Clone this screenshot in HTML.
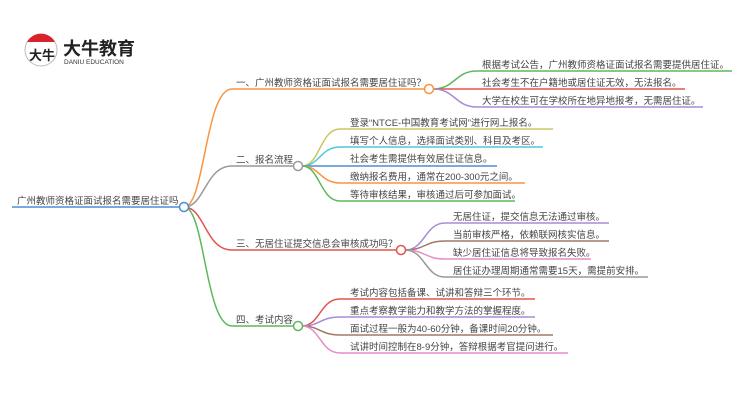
<!DOCTYPE html>
<html><head><meta charset="utf-8"><style>
html,body{margin:0;padding:0;background:#fff;}
svg{display:block;}
text{font-family:"Liberation Sans","Noto Sans CJK SC",sans-serif;font-size:9.5px;fill:#444;}
</style></head><body>
<svg width="750" height="410" viewBox="0 0 750 410" xmlns="http://www.w3.org/2000/svg">
<g>
<circle cx="41" cy="50" r="16" fill="#fff" stroke="#bbb" stroke-width="1"/>
<path d="M27 42 A16 16 0 0 1 55 42 Z" fill="#d9232a"/>
<text x="29" y="60" style="font-size:13px;font-weight:bold;fill:#222">大牛</text>
<text x="63" y="55" style="font-size:18px;font-weight:bold;fill:#222">大牛教育</text>
<text x="64" y="64" style="font-size:6.5px;fill:#333">DANIU EDUCATION</text>
</g>
<g fill="none" stroke-width="1.5">
<path d="M12 207 H180" stroke="#4a8fd6"/>
<path d="M184 207 C205 207,205 89,232 89 H425" stroke="#f7963f"/>
<path d="M184 207 C205 207,205 166,232 166 H294" stroke="#999"/>
<path d="M184 207 C205 207,205 250,232 250 H397" stroke="#e5534b"/>
<path d="M184 207 C205 207,205 326,232 326 H294" stroke="#5cb85c"/>
<path d="M433 89 C455 89,455 71,477 71 H732" stroke="#5cb85c"/>
<path d="M433 89 H685" stroke="#e5534b"/>
<path d="M433 89 C455 89,455 107,477 107 H703" stroke="#a98bd6"/>
<path d="M302 166 C320 166,320 129,340 129 H553" stroke="#c8c860"/>
<path d="M302 166 C320 166,320 147,340 147 H543" stroke="#4fc8d8"/>
<path d="M302 166 H497" stroke="#4a8fd6"/>
<path d="M302 166 C320 166,320 183,340 183 H525" stroke="#f7963f"/>
<path d="M302 166 C320 166,320 201,340 201 H515" stroke="#5cb85c"/>
<path d="M405 250 C425 250,425 223,445 223 H609" stroke="#a98bd6"/>
<path d="M405 250 C425 250,425 241,445 241 H609" stroke="#a07868"/>
<path d="M405 250 C425 250,425 259,445 259 H591" stroke="#e88cc8"/>
<path d="M405 250 C425 250,425 277,445 277 H648" stroke="#999"/>
<path d="M302 326 C320 326,320 299,340 299 H535" stroke="#e5534b"/>
<path d="M302 326 C320 326,320 317,340 317 H535" stroke="#a98bd6"/>
<path d="M302 326 C320 326,320 335,340 335 H553" stroke="#a07868"/>
<path d="M302 326 C320 326,320 353,340 353 H568" stroke="#e88cc8"/>
</g>
<g fill="#fff" stroke-width="1.5">
<circle cx="184" cy="207" r="4.5" stroke="#4a8fd6"/>
<circle cx="429" cy="89" r="4.5" stroke="#f7963f"/>
<circle cx="298" cy="166" r="4.5" stroke="#999"/>
<circle cx="401" cy="250" r="4.5" stroke="#e5534b"/>
<circle cx="298" cy="326" r="4.5" stroke="#5cb85c"/>
</g>
<text x="17" y="204">广州教师资格证面试报名需要居住证吗</text>
<text x="236" y="86">一、广州教师资格证面试报名需要居住证吗？</text>
<text x="236" y="163">二、报名流程</text>
<text x="236" y="247">三、无居住证提交信息会审核成功吗？</text>
<text x="236" y="323">四、考试内容</text>

<text x="482" y="68">根据考试公告，广州教师资格证面试报名需要提供居住证。</text>
<text x="482" y="86">社会考生不在户籍地或居住证无效，无法报名。</text>
<text x="482" y="104">大学在校生可在学校所在地异地报考，无需居住证。</text>

<text x="350" y="126">登录“NTCE-中国教育考试网”进行网上报名。</text>
<text x="350" y="144">填写个人信息，选择面试类别、科目及考区。</text>
<text x="350" y="162">社会考生需提供有效居住证信息。</text>
<text x="350" y="180">缴纳报名费用，通常在200-300元之间。</text>
<text x="350" y="198">等待审核结果，审核通过后可参加面试。</text>

<text x="453" y="220">无居住证，提交信息无法通过审核。</text>
<text x="453" y="238">当前审核严格，依赖联网核实信息。</text>
<text x="453" y="256">缺少居住证信息将导致报名失败。</text>
<text x="453" y="274">居住证办理周期通常需要15天，需提前安排。</text>

<text x="350" y="296">考试内容包括备课、试讲和答辩三个环节。</text>
<text x="350" y="314">重点考察教学能力和教学方法的掌握程度。</text>
<text x="350" y="332">面试过程一般为40-60分钟，备课时间20分钟。</text>
<text x="350" y="350">试讲时间控制在8-9分钟，答辩根据考官提问进行。</text>
</svg>
</body></html>
